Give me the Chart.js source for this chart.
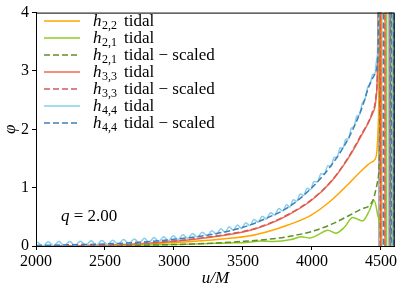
<!DOCTYPE html>
<html>
<head>
<meta charset="utf-8">
<script src="https://cdn.jsdelivr.net/npm/chart.js@4"></script>
<style>
  html, body { margin: 0; padding: 0; background: #fff; }
  #wrap { width: 399px; height: 291px; }
</style>
</head>
<body>
<div id="wrap"><canvas id="grafico" width="399" height="291"></canvas></div>
<script>
const xTicks = [2000, 2500, 3000, 3500, 4000, 4500];
const yTicks = [0, 1, 2, 3, 4];

// h_{2,2} tidal
const u22 = [2000, 2250, 2500, 2750, 3000, 3250, 3540, 3683, 3827, 3995, 4139, 4259, 4355, 4427, 4458, 4475, 4490, 4495, 4505.5, 4506, 4575.5, 4576, 4589.5, 4590];
const phi22 = [0, 0.004, 0.012, 0.03, 0.06, 0.1, 0.17, 0.25, 0.36, 0.53, 0.78, 1.05, 1.28, 1.43, 1.49, 1.77, 3.5, 6, 6, -1, -1, 6, 6, -1];

// h_{2,1} tidal
const u21 = [2000, 2300, 2600, 2900, 3100, 3300, 3450, 3540, 3633, 3720, 3850, 3922, 3983, 4043, 4115, 4173, 4235, 4295, 4367, 4415, 4451, 4475, 4499, 4510, 4539.5, 4540, 4584.5, 4585];
const phi21 = [0, 0.003, 0.01, 0.02, 0.03, 0.045, 0.055, 0.065, 0.085, 0.075, 0.11, 0.16, 0.135, 0.19, 0.27, 0.22, 0.32, 0.49, 0.43, 0.6, 0.78, 0.55, 0.1, -1, -1, 6, 6, -1];

// h_{2,1} tidal - scaled
const u21s = [2000, 2500, 3000, 3250, 3500, 3700, 3850, 4000, 4139, 4259, 4355, 4439, 4475, 4490, 4500, 4528.5, 4529, 4569.5, 4570];
const phi21s = [0, 0.004, 0.025, 0.045, 0.08, 0.12, 0.17, 0.25, 0.37, 0.51, 0.63, 0.77, 1.1, 1.7, 6, 6, -1, -1, 6];

// h_{3,3} tidal
const u33 = [2000, 2250, 2500, 2750, 3000, 3250, 3540, 3683, 3827, 3995, 4139, 4259, 4355, 4439, 4463, 4475, 4485, 4498.5, 4499, 4529.5, 4530, 4559.5, 4560];
const phi33 = [0, 0.004, 0.015, 0.04, 0.08, 0.145, 0.26, 0.37, 0.53, 0.78, 1.1, 1.49, 1.88, 2.27, 2.49, 3.1, 6, 6, -1, -1, 6, 6, -1];

// h_{3,3} tidal - scaled
const u33s = [2000, 2250, 2500, 2750, 3000, 3250, 3540, 3683, 3827, 3995, 4139, 4259, 4355, 4439, 4463, 4478, 4487, 4494.5, 4495, 4564.5, 4565, 4586.5, 4587];
const phi33s = [0, 0.005, 0.017, 0.043, 0.085, 0.155, 0.27, 0.38, 0.54, 0.79, 1.11, 1.5, 1.9, 2.3, 2.55, 3.3, 6, 6, -1, -1, 6, 6, -1];

// h_{4,4} tidal (oscillating)
const u44 = [2010, 2049, 2088, 2127, 2166, 2205, 2244, 2283, 2322, 2361, 2400, 2439, 2478, 2517, 2556, 2595, 2634, 2673, 2712, 2749,
  2785, 2820, 2855, 2890, 2925, 2960, 2995, 3030, 3065, 3100, 3135, 3170, 3205, 3240, 3275, 3308, 3340, 3370, 3400, 3430,
  3460, 3490, 3520, 3550, 3580, 3610, 3640, 3670, 3700, 3730, 3760, 3788, 3815, 3840, 3865, 3890, 3915, 3940, 3965, 3990,
  4015, 4040, 4065, 4090, 4115, 4138, 4160, 4183, 4205, 4225, 4245, 4265, 4285, 4305, 4325, 4345, 4365, 4385, 4405, 4423,
  4440, 4455, 4470, 4480, 4487, 4553.5, 4554, 4579.5, 4580, 4596.5, 4597];
const phi44 = [0.07, 0.0, 0.073, 0.002, 0.076, 0.005, 0.079, 0.008, 0.083, 0.012, 0.088, 0.017, 0.093, 0.023, 0.1, 0.032, 0.11, 0.042, 0.12, 0.051,
  0.131, 0.062, 0.144, 0.076, 0.159, 0.091, 0.174, 0.109, 0.194, 0.13, 0.215, 0.151, 0.237, 0.172, 0.26, 0.203, 0.296, 0.237, 0.328, 0.269,
  0.359, 0.3, 0.399, 0.351, 0.454, 0.407, 0.51, 0.463, 0.57, 0.53, 0.641, 0.599, 0.706, 0.67, 0.794, 0.768, 0.892, 0.867, 0.991, 0.965,
  1.104, 1.097, 1.24, 1.233, 1.375, 1.362, 1.517, 1.526, 1.682, 1.68, 1.829, 1.836, 2.015, 2.045, 2.224, 2.253, 2.449, 2.513, 2.727, 2.777,
  2.941, 2.937, 3.2, 3.45, 6, 6, -1, -1, 6, 6, -1];

// h_{4,4} tidal - scaled
const u44s = [2000, 2250, 2500, 2750, 3000, 3250, 3500, 3683, 3827, 3995, 4139, 4259, 4355, 4427, 4463, 4480, 4490, 4517.5, 4518, 4575.5, 4576, 4593.5, 4594];
const phi44s = [0.01, 0.02, 0.035, 0.065, 0.115, 0.19, 0.32, 0.49, 0.66, 0.99, 1.38, 1.82, 2.32, 2.82, 2.99, 3.43, 6, 6, -1, -1, 6, 6, -1];

// vertical marker
const uMarker = [4485, 4485.5];
const phiMarker = [-1, 6];

const legendSub = ['2,2', '2,1', '2,1', '3,3', '3,3', '4,4', '4,4'];
const legendText = ['tidal', 'tidal', 'tidal \u2212 scaled', 'tidal', 'tidal \u2212 scaled', 'tidal', 'tidal \u2212 scaled'];
const colores = ['#ffa500', '#8fcc24', '#5f8f2a', '#f56a4b', '#cd5c5c', '#87ceeb', '#3f7fb8'];
const dashes = [[], [], [6, 3], [], [6, 3], [], [6, 3]];

const pts = (us, ps) => us.map((u, i) => ({ x: u, y: ps[i] }));
const series = [[u22, phi22], [u21, phi21], [u21s, phi21s], [u33, phi33], [u33s, phi33s], [u44, phi44], [u44s, phi44s]];

const datasets = series.map(([us, ps], i) => ({
    label: 'h' + legendSub[i] + ' ' + legendText[i],
    data: pts(us, ps),
    borderColor: colores[i],
    borderWidth: 1.5,
    borderDash: dashes[i],
    pointRadius: 0,
    cubicInterpolationMode: 'monotone',
    clip: 0,
    order: 10 - i
}));
datasets.push({
    label: 'marker',
    data: pts(uMarker, phiMarker),
    borderColor: '#a0a0a0',
    borderWidth: 1.5,
    pointRadius: 0,
    clip: 0,
    order: 20,
    legend: false
});

const SERIF = "'Liberation Serif', 'DejaVu Serif', serif";

const extras = {
    id: 'extras',
    afterDraw(chart) {
        const { ctx, chartArea: a } = chart;
        ctx.save();
        ctx.strokeStyle = '#000';
        ctx.lineWidth = 1;
        ctx.strokeRect(a.left + 0.5, a.top + 0.5, a.right - a.left - 1, a.bottom - a.top);

        // legend
        ctx.textBaseline = 'alphabetic';
        chart.data.datasets.forEach((ds, i) => {
            if (ds.legend === false) return;
            const y = 21 + i * 17;
            ctx.beginPath();
            ctx.strokeStyle = ds.borderColor;
            ctx.lineWidth = 1.5;
            ctx.setLineDash(ds.borderDash);
            ctx.moveTo(44, y);
            ctx.lineTo(80, y);
            ctx.stroke();
            ctx.setLineDash([]);
            ctx.fillStyle = '#000';
            ctx.font = 'italic 17px ' + SERIF;
            ctx.fillText('h', 93, y + 5);
            ctx.font = '12px ' + SERIF;
            ctx.fillText(legendSub[i], 102, y + 8);
            ctx.font = '17px ' + SERIF;
            ctx.fillText(legendText[i], 124, y + 5);
        });

        // q annotation
        ctx.font = 'italic 17px ' + SERIF;
        ctx.fillText('q', 61, 221);
        const qw = ctx.measureText('q').width;
        ctx.font = '17px ' + SERIF;
        ctx.fillText(' = 2.00', 61 + qw, 221);
        ctx.restore();
    }
};

new Chart(document.getElementById('grafico').getContext('2d'), {
    type: 'line',
    data: { datasets },
    options: {
        responsive: false,
        animation: false,
        devicePixelRatio: 1,
        layout: { padding: { top: 6, right: 2, left: 0, bottom: 0 } },
        plugins: { legend: { display: false }, tooltip: { enabled: false } },
        scales: {
            x: {
                type: 'linear',
                min: 2000,
                max: 4600,
                afterBuildTicks: s => { s.ticks = xTicks.map(v => ({ value: v })); },
                afterFit: s => { s.height = 45; },
                ticks: { color: '#000', font: { family: SERIF, size: 16 }, padding: 2, maxRotation: 0, callback: v => String(v) },
                grid: { drawOnChartArea: false, drawTicks: true, tickLength: 4, tickColor: '#000' },
                border: { display: true, color: '#000', width: 1 },
                title: { display: true, text: 'u/M', color: '#000', font: { family: SERIF, size: 17, style: 'italic' }, padding: { top: 0, bottom: 2 } }
            },
            y: {
                type: 'linear',
                min: 0,
                max: 4,
                afterBuildTicks: s => { s.ticks = yTicks.map(v => ({ value: v })); },
                afterFit: s => { s.width = 36; },
                ticks: { color: '#000', font: { family: SERIF, size: 16 }, padding: 3, callback: v => String(v) },
                grid: { drawOnChartArea: false, drawTicks: true, tickLength: 4, tickColor: '#000' },
                border: { display: true, color: '#000', width: 1 },
                title: { display: true, text: '\u03c6', color: '#000', font: { family: SERIF, size: 17, style: 'italic' }, padding: { top: 0, bottom: 0 } }
            }
        }
    },
    plugins: [extras]
});
</script>
</body>
</html>
